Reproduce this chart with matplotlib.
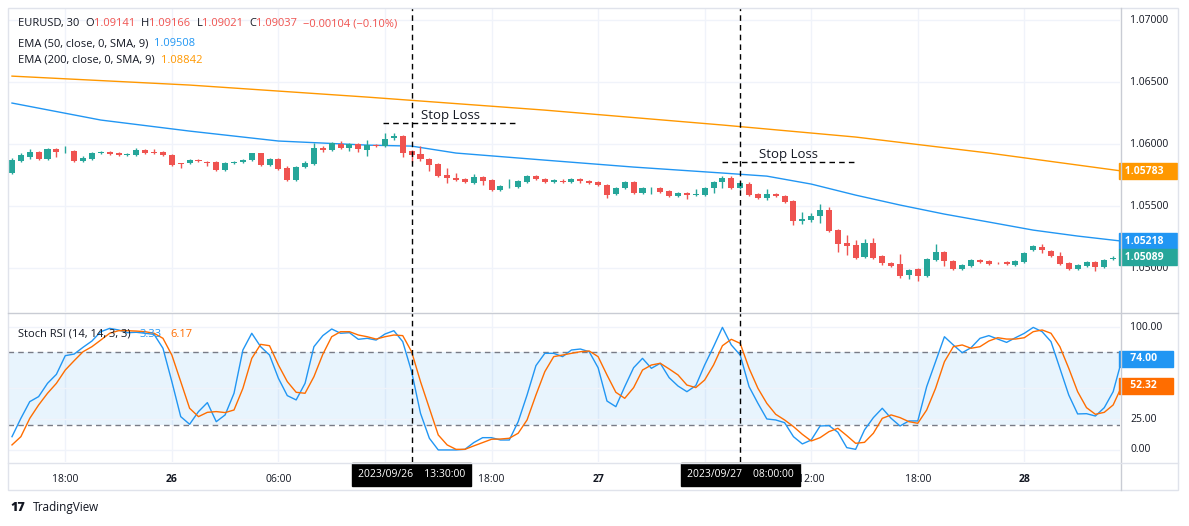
import matplotlib
matplotlib.use('Agg')
import matplotlib.pyplot as plt
from matplotlib.patches import Rectangle
import matplotlib.transforms as mtransforms

plt.rcParams['font.family'] = 'Open Sans'

# ---------------- data ----------------
opens = [1.05767,1.05863,1.05896,1.05936,1.05879,1.05960,1.05936,1.05944,1.05863,1.05879,
         1.05928,1.05936,1.05928,1.05912,1.05912,1.05952,1.05936,1.05936,1.05912,1.05847,
         1.05847,1.05871,1.05855,1.05855,1.05791,1.05847,1.05855,1.05871,1.05928,1.05831,
         1.05879,1.05807,1.05710,1.05815,1.05839,1.05968,1.05952,1.06000,1.05968,1.06000,
         1.05952,1.05992,1.05984,1.06049,1.06065,1.05944,1.05920,1.05879,1.05839,1.05750,
         1.05726,1.05718,1.05686,1.05734,1.05710,1.05630,1.05654,1.05654,1.05694,1.05742,
         1.05718,1.05694,1.05702,1.05694,1.05718,1.05702,1.05694,1.05670,1.05597,1.05646,
         1.05694,1.05605,1.05646,1.05646,1.05622,1.05581,1.05605,1.05589,1.05589,1.05646,
         1.05694,1.05726,1.05646,1.05678,1.05597,1.05565,1.05597,1.05581,1.05541,1.05380,
         1.05388,1.05420,1.05468,1.05307,1.05202,1.05186,1.05090,1.05202,1.05098,1.05041,
         1.05033,1.04945,1.04993,1.04937,1.05065,1.05130,1.05057,1.04993,1.05017,1.05065,
         1.05057,1.05041,1.05049,1.05025,1.05049,1.05146,1.05170,1.05138,1.05098,1.05041,
         1.04993,1.05017,1.05049,1.05009,1.05074,1.05082]
closes = [1.05871,1.05912,1.05936,1.05879,1.05960,1.05936,1.05938,1.05863,1.05887,1.05928,
          1.05936,1.05920,1.05912,1.05920,1.05952,1.05928,1.05928,1.05912,1.05831,1.05839,
          1.05871,1.05863,1.05847,1.05791,1.05847,1.05855,1.05871,1.05928,1.05831,1.05879,
          1.05799,1.05710,1.05815,1.05847,1.05968,1.05952,1.06008,1.05968,1.06000,1.05960,
          1.05992,1.05984,1.06041,1.06065,1.05928,1.05912,1.05879,1.05831,1.05742,1.05726,
          1.05710,1.05694,1.05734,1.05702,1.05630,1.05662,1.05656,1.05702,1.05742,1.05718,
          1.05694,1.05710,1.05694,1.05718,1.05702,1.05686,1.05670,1.05589,1.05646,1.05694,
          1.05605,1.05646,1.05648,1.05613,1.05581,1.05605,1.05589,1.05597,1.05646,1.05694,
          1.05726,1.05646,1.05686,1.05589,1.05565,1.05597,1.05581,1.05533,1.05380,1.05396,
          1.05420,1.05468,1.05299,1.05194,1.05178,1.05082,1.05202,1.05082,1.05041,1.05017,
          1.04937,1.04985,1.04937,1.05074,1.05130,1.05057,1.04993,1.05025,1.05065,1.05049,
          1.05033,1.05039,1.05033,1.05057,1.05122,1.05178,1.05146,1.05098,1.05033,1.04993,
          1.05025,1.05049,1.05009,1.05065,1.05082,1.05089]
highs = [1.05887,1.05928,1.05960,1.05944,1.05968,1.05968,1.05984,1.05952,1.05904,1.05936,
         1.05944,1.05944,1.05936,1.05928,1.05968,1.05960,1.05960,1.05944,1.05920,1.05847,
         1.05879,1.05879,1.05863,1.05863,1.05855,1.05863,1.05879,1.05928,1.05928,1.05887,
         1.05887,1.05823,1.05823,1.05863,1.06008,1.05984,1.06017,1.06025,1.06008,1.06008,
         1.06033,1.06000,1.06089,1.06089,1.06073,1.05952,1.05984,1.05887,1.05847,1.05807,
         1.05767,1.05726,1.05759,1.05742,1.05718,1.05670,1.05718,1.05710,1.05750,1.05750,
         1.05726,1.05718,1.05718,1.05726,1.05726,1.05710,1.05702,1.05678,1.05654,1.05702,
         1.05702,1.05654,1.05654,1.05654,1.05630,1.05613,1.05613,1.05638,1.05654,1.05702,
         1.05742,1.05742,1.05694,1.05694,1.05605,1.05638,1.05605,1.05589,1.05549,1.05452,
         1.05444,1.05517,1.05493,1.05315,1.05267,1.05227,1.05235,1.05243,1.05106,1.05049,
         1.05114,1.04993,1.05001,1.05082,1.05194,1.05138,1.05065,1.05033,1.05074,1.05074,
         1.05065,1.05049,1.05057,1.05065,1.05130,1.05186,1.05194,1.05146,1.05130,1.05049,
         1.05033,1.05057,1.05057,1.05074,1.05098,1.05106]
lows = [1.05759,1.05855,1.05879,1.05871,1.05871,1.05896,1.05928,1.05855,1.05855,1.05871,
        1.05920,1.05912,1.05904,1.05904,1.05904,1.05920,1.05920,1.05904,1.05823,1.05807,
        1.05839,1.05855,1.05823,1.05783,1.05783,1.05839,1.05847,1.05863,1.05823,1.05823,
        1.05791,1.05702,1.05702,1.05807,1.05831,1.05936,1.05944,1.05960,1.05944,1.05936,
        1.05904,1.05976,1.05976,1.06033,1.05896,1.05855,1.05863,1.05783,1.05734,1.05686,
        1.05702,1.05686,1.05678,1.05670,1.05622,1.05622,1.05646,1.05646,1.05686,1.05710,
        1.05686,1.05686,1.05686,1.05686,1.05686,1.05678,1.05662,1.05565,1.05589,1.05638,
        1.05597,1.05597,1.05597,1.05605,1.05573,1.05573,1.05557,1.05581,1.05581,1.05605,
        1.05646,1.05638,1.05638,1.05581,1.05557,1.05549,1.05573,1.05525,1.05348,1.05356,
        1.05372,1.05364,1.05291,1.05130,1.05106,1.05074,1.05082,1.05074,1.05025,1.05009,
        1.04921,1.04913,1.04896,1.04929,1.05057,1.05017,1.04985,1.04985,1.05009,1.05041,
        1.05025,1.05033,1.05025,1.05017,1.05041,1.05138,1.05122,1.05090,1.05025,1.04985,
        1.04985,1.05009,1.04977,1.05001,1.05065,1.05074]

ema50_bars = [0,10,20,30,40,45,50,60,70,80,85,90,95,100,105,110,115,120,125]
ema50_vals = [1.06331,1.06194,1.06105,1.06025,1.05992,1.05984,1.05928,1.05871,1.05815,1.05767,
              1.05742,1.05678,1.05589,1.05509,1.05436,1.05372,1.05307,1.05259,1.05218]
ema200_bars = [0,20,40,60,80,95,110,125]
ema200_vals = [1.06548,1.06476,1.06379,1.06274,1.06154,1.06057,1.05928,1.05783]

stoch_k = [10.8,25.7,39.3,43.4,54.2,61.5,76.7,78.0,83.5,88.6,96.2,98.9,97.6,95.4,95.7,94.9,94.0,82.7,
           55.6,27.1,20.9,31.2,38.5,23.0,28.5,46.1,81.3,94.9,84.0,77.2,58.3,44.2,40.7,54.2,84.0,93.0,
           98.4,94.9,95.4,90.0,90.8,89.4,94.3,97.0,88.1,63.7,29.8,9.5,0.0,0.0,0.0,0.5,6.0,10.0,10.0,
           8.1,8.1,23.0,44.7,68.6,78.6,78.6,
           75.9,81.3,82.1,79.9,66.9,39.8,35.2,51.5,66.9,74.5,66.4,70.5,58.8,52.0,47.4,52.3,69.1,84.0,
           99.7,85.4,77.2,51.5,37.9,25.2,24.4,22.2,10.8,4.9,8.1,19.5,19.8,14.4,1.9,0.5,16.3,26.3,
           33.9,25.7,19.5,23.6,23.6,51.5,71.8,92.1,85.4,79.1,83.2,90.8,93.0,90.2,87.5,91.3,94.9,99.7,
           96.2,88.1,66.4,44.7,29.3,29.5,27.6,34.4,47.4,74.0]
stoch_d = [4.1,10.8,25.7,36.6,46.1,54.2,65.0,72.6,79.9,84.0,89.4,94.9,97.0,97.0,96.7,96.2,94.9,90.8,
           77.2,55.6,33.9,27.1,30.6,31.2,30.4,32.5,50.1,74.5,85.9,84.8,69.1,55.6,46.9,46.1,59.6,77.8,
           92.1,96.2,96.2,93.5,92.1,90.2,92.1,93.5,93.0,79.9,55.6,33.9,12.2,4.1,0.5,0.5,3.3,6.0,8.7,
           8.9,9.5,13.6,24.4,44.7,63.7,75.9,
           77.2,78.6,79.9,80.5,75.9,61.0,46.9,42.0,50.7,65.0,69.1,70.5,65.9,61.0,52.8,50.7,56.9,69.1,
           84.8,90.0,86.7,66.4,50.1,37.9,29.0,24.4,19.0,12.7,7.3,10.0,14.9,17.6,11.7,5.4,6.2,13.6,
           25.7,28.5,26.3,23.0,21.7,32.5,50.1,71.8,84.0,85.4,82.7,84.0,88.6,91.3,90.2,90.2,91.3,96.2,
           97.6,94.9,84.0,66.4,47.4,34.4,29.0,30.6,36.6,52.32]

price_ticks = [1.05000, 1.05500, 1.06000, 1.06500, 1.07000]
stoch_ticks = [0, 25, 100]
time_tick_bars = [6, 18, 30, 54, 66, 90, 102, 114]
time_tick_labels = ['18:00', '26', '06:00', '18:00', '27', '12:00', '18:00', '28']
marker_bars = [45, 82]
marker_labels = ['2023/09/26    13:30:00', '2023/09/27    08:00:00']
sl_prices = [1.06170, 1.05856]
sl_start = [41.8, 80.0]
sl_end = [56.9, 94.9]
last_close = 1.05089
last_ema50 = 1.05218
last_ema200 = 1.05783
last_k = 74.00
last_d = 52.32

# ---------------- style ----------------
UP, DN = '#26a69a', '#ef5350'
BLUE, ORANGE, ORANGE2 = '#2196f3', '#ff9800', '#ff6d00'
GRID = '#f0f3fa'
TXT = '#131722'
W, H = 1189, 526

def rect(l, t, r, b):
    return [l / W, 1 - b / H, (r - l) / W, (b - t) / H]

fig = plt.figure(figsize=(W / 100, H / 100), dpi=100)
fig.patch.set_facecolor('white')
ax = fig.add_axes(rect(8, 8, 1120, 312))
ax2 = fig.add_axes(rect(8, 313, 1120, 462), sharex=ax)

n = len(closes)
xs = list(range(n))
XL = (-0.45, 124.77)

for a in (ax, ax2):
    for s in a.spines.values():
        s.set_visible(False)
    a.tick_params(length=0)
    a.set_xlim(*XL)
    for b in time_tick_bars + [42, 78]:
        a.axvline(b, color=GRID, lw=1, zorder=0)

# candles
for i in xs:
    o, c, h, l = opens[i], closes[i], highs[i], lows[i]
    col = UP if c >= o else DN
    ax.vlines(i, l, h, color=col, lw=1, zorder=3)
    ax.bar(i, max(abs(c - o), 0.000015), bottom=min(o, c), width=0.68,
           color=col, edgecolor=col, lw=0, zorder=4)

ax.plot(ema50_bars, ema50_vals, color=BLUE, lw=1, zorder=2)
ax.plot(ema200_bars, ema200_vals, color=ORANGE, lw=1, zorder=2)
ax.set_ylim(1.04647, 1.07097)
for p in price_ticks:
    ax.axhline(p, color=GRID, lw=1, zorder=0)
ax.set_xticks([])
ax.set_yticks([])

# stop loss
for p, s, e in zip(sl_prices, sl_start, sl_end):
    ax.plot([s, e], [p, p], ls=(0, (4, 3)), color='black', lw=1, zorder=5)
    ax.text(s + (e - s) * 0.28, p + 0.00008, 'Stop Loss', fontsize=9.5, color=TXT, va='bottom', zorder=6)

# right axis price labels
tr = mtransforms.blended_transform_factory(ax.transAxes, ax.transData)
for p in price_ticks:
    ax.text(1.009, p, f'{p:.5f}', transform=tr, fontsize=7.5, color=TXT, va='center', ha='left', clip_on=False)
for v, col in [(last_ema200, ORANGE), (last_ema50, BLUE), (last_close, UP)]:
    ax.text(1.0015, v, f' {v:.5f}    ', transform=tr, fontsize=7.5, color='white', fontweight='bold',
            va='center', ha='left', clip_on=False,
            bbox=dict(boxstyle='square,pad=0.25', fc=col, ec=col))

# stochastic
ax2.set_ylim(-9.8, 111.4)
ax2.axhspan(20, 80, color='#2196f3', alpha=0.1, lw=0, zorder=0)
for v in [100, 50, 25, 0]:
    ax2.axhline(v, color=GRID, lw=1, zorder=0)
for v in [20, 80]:
    ax2.axhline(v, color='#787b86', lw=1, ls=(0, (4, 3)), zorder=1)
ax2.plot(xs, stoch_k, color=BLUE, lw=1, zorder=3)
ax2.plot(xs, stoch_d, color=ORANGE2, lw=1, zorder=3)
ax2.set_yticks([])
ax2.set_xticks(time_tick_bars)
ax2.set_xticklabels(time_tick_labels, fontsize=7.5, color=TXT)
for lab, t in zip(ax2.get_xticklabels(), time_tick_labels):
    if ':' not in t:
        lab.set_fontweight('bold')
ax2.tick_params(axis='x', pad=9)
tr2 = mtransforms.blended_transform_factory(ax2.transAxes, ax2.transData)
for v in stoch_ticks:
    ax2.text(1.009, v, f'{v:.2f}', transform=tr2, fontsize=7.5, color=TXT, va='center', ha='left', clip_on=False)
for v, col in [(last_k, BLUE), (last_d, ORANGE2)]:
    ax2.text(1.0015, v, f'   {v:.2f}     ', transform=tr2, fontsize=7.5, color='white', fontweight='bold',
             va='center', ha='left', clip_on=False,
             bbox=dict(boxstyle='square,pad=0.25', fc=col, ec=col))

# vertical markers
for b, lab in zip(marker_bars, marker_labels):
    for a in (ax, ax2):
        a.axvline(b, color='black', lw=1, ls=(0, (4, 3)), zorder=7)
    ax2.annotate(lab, xy=(b, 0), xycoords=('data', 'axes fraction'), xytext=(0, -9),
                 textcoords='offset points', ha='center', va='center', fontsize=7.5,
                 color='white', zorder=10, annotation_clip=False,
                 bbox=dict(boxstyle='square,pad=0.6', fc='black', ec='black'))

# legend texts: place each part right after the measured extent of the previous one
fig.canvas.draw()
renderer = fig.canvas.get_renderer()

def chain(a, x, y, parts, fs=8):
    t = a.text(x, y, parts[0][0], color=parts[0][1], fontsize=fs, transform=a.transAxes,
               va='baseline', ha='left', zorder=9)
    for txt, col, gap in parts[1:]:
        bb = t.get_window_extent(renderer)
        nx = a.transAxes.inverted().transform((bb.x1 + gap, 0))[0]
        t = a.text(nx, y, txt, color=col, fontsize=fs, transform=a.transAxes,
                   va='baseline', ha='left', zorder=9)

chain(ax, 0.009, 0.94, [('EURUSD, 30', TXT), ('O', TXT, 6), ('1.09141', DN, 0), ('H', TXT, 6),
                        ('1.09166', DN, 0), ('L', TXT, 6), ('1.09021', DN, 0), ('C', TXT, 6),
                        ('1.09037', DN, 0), ('\u22120.00104 (\u22120.10%)', DN, 6)])
chain(ax, 0.009, 0.875, [('EMA (50, close, 0, SMA, 9)', TXT), ('1.09508', BLUE, 6)])
chain(ax, 0.009, 0.82, [('EMA (200, close, 0, SMA, 9)', TXT), ('1.08842', ORANGE, 6)])
chain(ax2, 0.009, 0.84, [('Stoch RSI (14, 14, 3, 3)', TXT), ('3.33', BLUE, 9), ('6.17', ORANGE2, 9)])

# frame lines
fig.add_artist(plt.Line2D([8 / W, 1178 / W], [1 - 312.5 / H] * 2, color='#c9ccd4', lw=1))
fig.add_artist(plt.Line2D([1120.5 / W] * 2, [1 - 8 / H, 1 - 490 / H], color='#c9ccd4', lw=1))
fig.add_artist(Rectangle((8 / W, 1 - 490 / H), 1170 / W, 482 / H, transform=fig.transFigure,
                         fill=False, ec='#e0e3eb', lw=1))
fig.add_artist(plt.Line2D([8 / W, 1178 / W], [1 - 462.5 / H] * 2, color='#e0e3eb', lw=1))

# logo
fig.text(10 / W, 1 - 508 / H, '17', fontsize=9, fontweight='heavy', color=TXT, va='center')
fig.text(33 / W, 1 - 508 / H, 'TradingView', fontsize=8.5, color=TXT, va='center')

fig.savefig('out.png', dpi=100)
